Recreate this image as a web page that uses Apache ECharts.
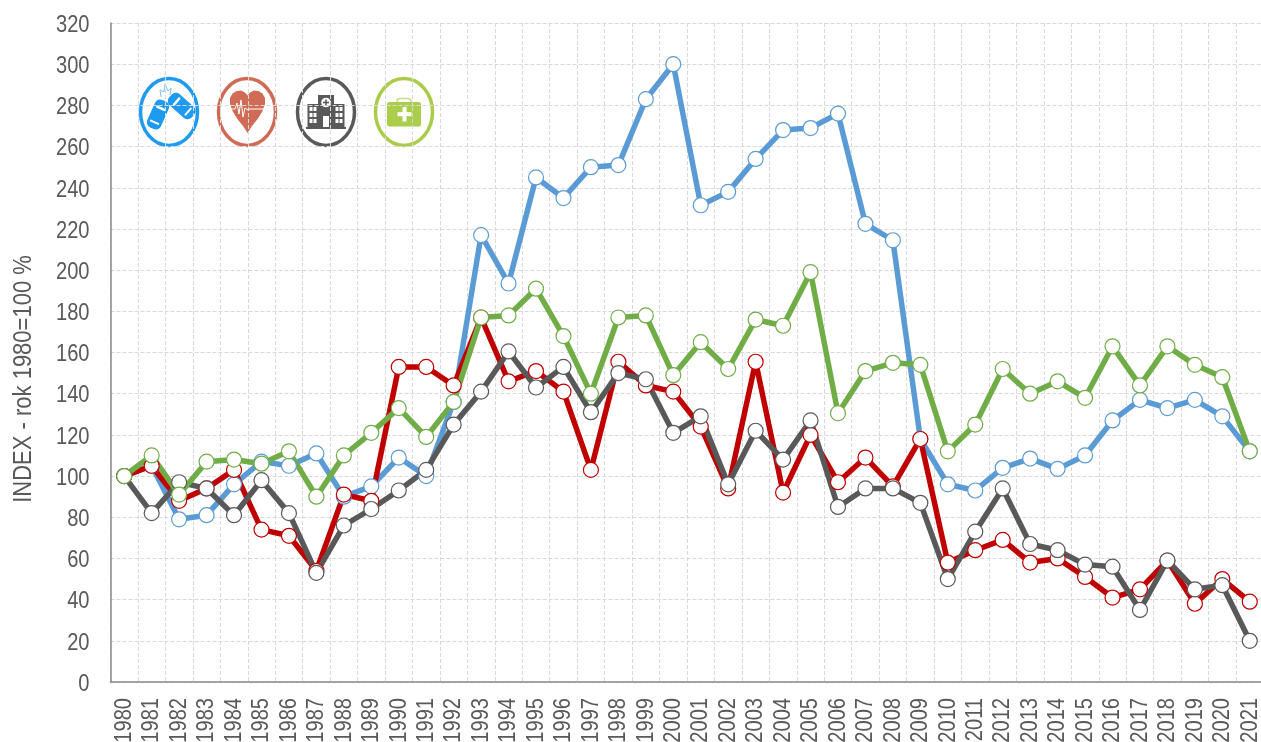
<!DOCTYPE html>
<html>
<head>
<meta charset="utf-8">
<title>INDEX</title>
<script src="https://cdn.jsdelivr.net/npm/echarts@6/dist/echarts.min.js"></script>
<style>
html, body { margin: 0; padding: 0; background: #fff; overflow: hidden; }
#chart { width: 1261px; height: 742px; }
</style>
</head>
<body>
<div id="chart"></div>
<script>
const years = ['1980','1981','1982','1983','1984','1985','1986','1987','1988','1989','1990','1991','1992','1993','1994','1995','1996','1997','1998','1999','2000','2001','2002','2003','2004','2005','2006','2007','2008','2009','2010','2011','2012','2013','2014','2015','2016','2017','2018','2019','2020','2021'];
const blueValues = [100,105,79,81,96,107,105,111,90,95,109,100,136,217,193.5,245,235,250,251,283,300,231.5,238,254,268,269,276,222.5,214.5,118,96,93,104,108.5,103.5,110,127,137,133,137,129,112];
const redValues = [100,105,88,94,103,74,71,54,91,88,153,153,144,177,146,151,141,103,155.5,144,141,124,94,155.5,92,120,97,109,95,118,58,64,69,58,60,51,41,45,59,38,50,39];
const greyValues = [100,82,97,94,81,98,82,53,76,84,93,103,125,141,160.5,143,153,131,150,147,121,129,96,122,108,127,85,94,94,87,50,73,94,67,64,57,56,35,59,45,47,20];
const greenValues = [100,110,91,107,108,106,112,90,110,121,133,119,136,177,178,191,168,140,177,178,149,165,152,176,173,199,130.5,151,155,154,112,125,152,140,146,138,163,144,163,154,148,112];
const axisTitle = 'INDEX - rok 1980=100 %';

const textColor = '#595959';
const labelFont = '"Liberation Sans", sans-serif';

function lineSeries(name, color, data) {
    return {
        name: name,
        type: 'line',
        data: data,
        symbol: 'circle',
        symbolSize: 15,
        showSymbol: true,
        clip: false,
        lineStyle: { color: color, width: 5.5, cap: 'round', join: 'round' },
        itemStyle: { color: '#fff', borderColor: color, borderWidth: 1.2 }
    };
}

function ring(cx, color) {
    return { type: 'ellipse', shape: { cx: cx, cy: 112, rx: 28.5, ry: 33.5 }, style: { fill: '#fff', stroke: color, lineWidth: 3.5 } };
}
function box(x, y, w, h, fill, r) {
    return { type: 'rect', shape: { x: x, y: y, width: w, height: h, r: r || 0 }, style: { fill: fill } };
}
function car(x, y, angle) {
    // auto ikony, otoceni kolem stredu
    const c = '#1E9BF0';
    return {
        type: 'group', x: x, y: y, rotation: angle,
        children: [
            box(-7.5, -15, 15, 30, c, 5.5),
            box(-5, -8, 10, 2.5, '#fff', 1),
            box(-5, 7.5, 10, 2, '#fff', 1)
        ]
    };
}

const heartShape = [[247.5,133],[243,126],[237,118.5],[232.5,111],[230,104],[230,98],[232.5,93.5],[236.5,91],[241,90.5],[245,92.5],[247.5,95.5],[250,92.5],[254,90.5],[258.5,91],[262.5,93.5],[265,98],[265,104],[262.5,111],[258,118.5],[252,126]];

const icons = [
    ring(169, '#1E9BF0'),
    car(158, 114.5, -0.42),
    car(181.7, 106, 0.85),
    { type: 'polyline', shape: { points: [[161,97],[160,90],[164,92],[165,84],[168,91],[171,88],[170,95]] }, style: { fill: 'none', stroke: '#7CC4F5', lineWidth: 1 } },

    ring(247, '#CF6B55'),
    { type: 'polygon', shape: { points: heartShape }, style: { fill: '#D06C55' } },
    { type: 'polyline', shape: { points: [[224,109],[235,109],[237,103],[239,114],[241,100],[243,117],[245,108],[248,110],[250,109],[271,109]] }, style: { fill: 'none', stroke: '#fff', lineWidth: 1 } },

    ring(326, '#595959'),
    box(318, 95, 16, 33, '#595959'),
    box(307.5, 104, 10.5, 24, '#595959'),
    box(334, 104, 10.5, 24, '#595959'),
    box(306, 127, 40, 2, '#595959'),
    { type: 'circle', shape: { cx: 326, cy: 102.5, r: 4.8 }, style: { fill: '#fff' } },
    box(325.2, 99.5, 1.6, 6, '#595959'),
    box(323, 101.7, 6, 1.6, '#595959'),
    box(323, 116, 6, 11, '#fff'),
    box(309.5, 107, 3, 4, '#fff'), box(313.5, 107, 3, 4, '#fff'),
    box(309.5, 113, 3, 4, '#fff'), box(313.5, 113, 3, 4, '#fff'),
    box(309.5, 119, 3, 4, '#fff'), box(313.5, 119, 3, 4, '#fff'),
    box(335.5, 107, 3, 4, '#fff'), box(339.5, 107, 3, 4, '#fff'),
    box(335.5, 113, 3, 4, '#fff'), box(339.5, 113, 3, 4, '#fff'),
    box(335.5, 119, 3, 4, '#fff'), box(339.5, 119, 3, 4, '#fff'),

    ring(404, '#A9CC4B'),
    { type: 'rect', shape: { x: 397, y: 98.5, width: 14, height: 7, r: 3 }, style: { fill: 'none', stroke: '#C5DE85', lineWidth: 1.5 } },
    box(387, 102, 34, 24.5, '#AACD4C', 2.5),
    box(402.5, 107, 4, 14.5, '#fff'),
    box(397.5, 112.2, 14, 4, '#fff')
];

const chart = echarts.init(document.getElementById('chart'), null, { renderer: 'canvas' });
chart.setOption({
    animation: false,
    backgroundColor: '#fff',
    grid: { left: 110.5, top: 23, width: 1153, height: 659, containLabel: false, outerBoundsMode: 'none' },
    xAxis: {
        type: 'category',
        data: years,
        boundaryGap: true,
        axisTick: { show: false },
        axisLine: { lineStyle: { color: '#898989', width: 1.5 } },
        axisLabel: { interval: 0, rotate: 90, margin: 16, color: textColor, fontFamily: labelFont, fontSize: 24.5, hideOverlap: false },
        splitLine: { show: true, interval: 0, lineStyle: { color: '#D9D9D9', type: [4, 2], width: 1 } }
    },
    yAxis: {
        type: 'value',
        min: 0,
        max: 320,
        interval: 20,
        name: axisTitle,
        nameLocation: 'middle',
        nameRotate: 90,
        nameGap: 74,
        nameTextStyle: { color: textColor, fontFamily: labelFont, fontSize: 25, padding: [0, 53, 0, 0] },
        axisTick: { show: false },
        axisLine: { show: true, lineStyle: { color: '#898989', width: 1.5 } },
        axisLabel: { margin: 21, color: textColor, fontFamily: labelFont, fontSize: 24.5 },
        splitLine: { show: true, lineStyle: { color: '#D9D9D9', type: [4, 2], width: 1 } }
    },
    graphic: { elements: icons },
    series: [
        lineSeries('blue', '#5B9BD5', blueValues),
        lineSeries('red', '#C00000', redValues),
        lineSeries('grey', '#595959', greyValues),
        lineSeries('green', '#70AD47', greenValues)
    ]
});

// pismo v originale je uzsi, osove popisky zuzime primo na vykreslenych textech
chart.getZr().storage.getDisplayList(true).forEach(function (el) {
    const text = el.style && el.style.text;
    if (!text) return;
    if (/^\d{1,4}$/.test(text) || text === axisTitle) {
        el.scaleX = text === axisTitle ? 0.88 : 0.82;
        el.originX = el.style.x || 0;
        if (text.length < 4) el.y = 2;
        el.markRedraw();
    }
});
chart.getZr().refreshImmediately();
</script>
</body>
</html>
